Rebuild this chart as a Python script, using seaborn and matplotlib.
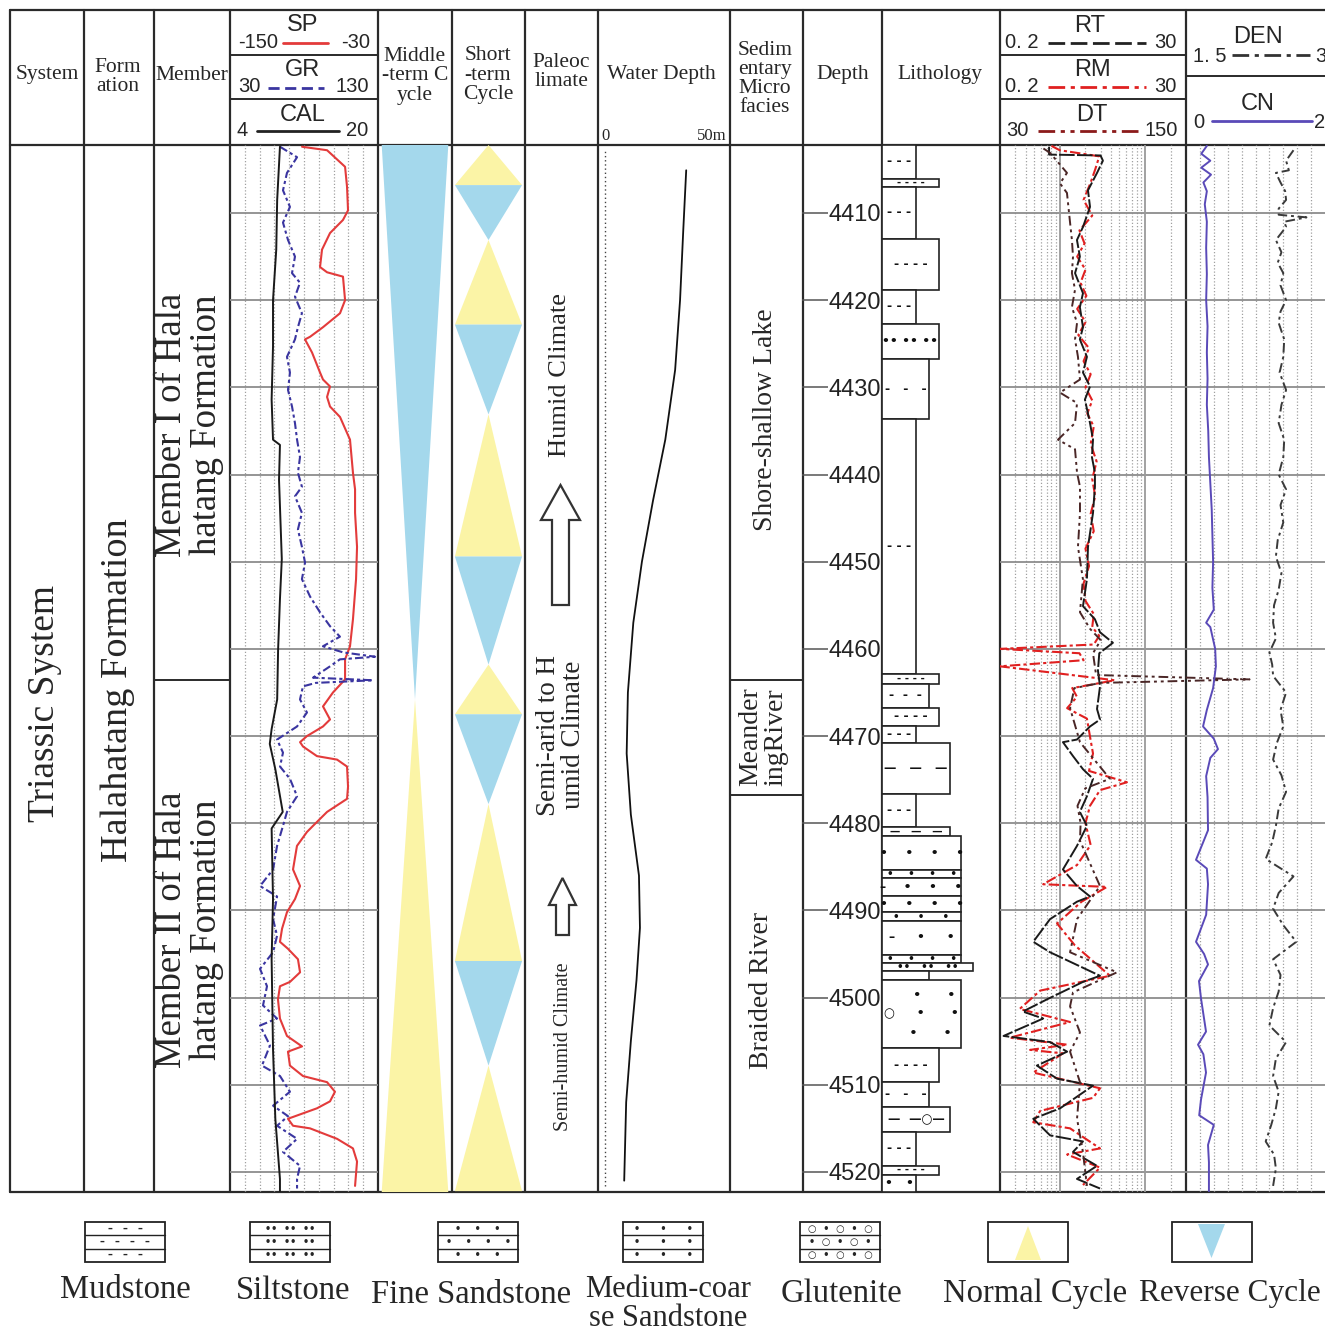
import numpy as np
import matplotlib
matplotlib.use("Agg")
import matplotlib.pyplot as plt
from matplotlib.patches import Polygon, Rectangle
import seaborn as sns

sns.set_style("white")
plt.rcParams['font.family'] = ['Liberation Serif', 'DejaVu Serif']
NARROW = ['Liberation Sans Narrow', 'Liberation Sans', 'DejaVu Sans']

W, H = 1325, 1338
TOP_D, BOT_D = 4402.2, 4522.3

# ---------------- data ----------------
sp_depth = [4402.4, 4402.8, 4404.7, 4407.0, 4409.7, 4410.8, 4412.3, 4414.2, 4416.2, 4416.8,
            4417.3, 4420.0, 4421.5, 4423.1, 4424.2, 4424.5, 4426.0, 4428.3, 4429.1, 4429.9,
            4431.1, 4432.2, 4433.4, 4436.0, 4439.8, 4441.7, 4444.4, 4448.3, 4452.0, 4456.6,
            4459.7, 4461.2, 4463.5, 4465.0, 4466.6, 4468.1, 4468.9, 4470.0, 4470.7, 4471.2,
            4472.3, 4472.7, 4473.5, 4475.8, 4477.2, 4478.7, 4480.3, 4481.0, 4482.6, 4485.3,
            4487.2, 4488.7, 4490.2, 4492.1, 4493.6, 4494.4, 4495.6, 4497.1, 4498.2, 4498.7,
            4500.2, 4502.4, 4504.4, 4505.6, 4506.2, 4507.8, 4509.0, 4509.7, 4510.8, 4511.9,
            4512.7, 4513.9, 4514.7, 4515.0, 4516.2, 4517.3, 4518.8, 4521.6]
sp_val = [-91.6, -71.3, -56.7, -55.1, -54.3, -58.4, -68.9, -75.4, -77.0, -71.3,
          -58.4, -56.7, -60.8, -74.6, -85.1, -89.2, -83.5, -77.0, -74.6, -68.9,
          -71.3, -68.9, -60.8, -52.7, -50.3, -48.6, -48.6, -47.0, -47.8, -50.3,
          -52.7, -56.7, -56.7, -66.5, -74.6, -68.9, -74.6, -87.6, -93.2, -90.8,
          -79.5, -63.2, -55.1, -54.3, -55.1, -71.3, -82.7, -87.6, -95.7, -98.9,
          -93.2, -97.3, -103.8, -107.8, -109.5, -103.0, -94.9, -93.2, -101.4, -109.5,
          -111.1, -109.5, -103.8, -91.6, -103.0, -101.4, -90.8, -71.3, -64.9, -68.9,
          -79.5, -103.0, -98.9, -85.1, -63.2, -50.3, -47.0, -48.6]

gr_depth = [4402.4, 4403.6, 4405.4, 4407.4, 4409.3, 4411.1, 4413.1, 4415.0, 4416.9, 4418.0,
            4419.6, 4421.5, 4423.1, 4424.5, 4426.5, 4428.3, 4430.3, 4432.2, 4434.1, 4436.0,
            4438.0, 4439.8, 4441.4, 4442.5, 4444.4, 4446.3, 4448.3, 4450.1, 4452.0, 4454.0,
            4455.8, 4457.4, 4458.6, 4459.7, 4460.4, 4460.9, 4461.2, 4462.0, 4463.3, 4463.6,
            4463.9, 4464.3, 4465.8, 4467.3, 4468.9, 4470.4, 4471.9, 4473.5, 4474.9, 4476.9,
            4478.7, 4480.3, 4482.6, 4485.3, 4487.2, 4488.4, 4491.0, 4492.9, 4494.8, 4496.7,
            4498.7, 4500.9, 4502.4, 4503.2, 4505.5, 4507.8, 4509.0, 4510.8, 4512.4, 4513.6,
            4514.7, 4516.2, 4517.7, 4519.3, 4520.8, 4521.9]
gr_val = [63.8, 75.3, 68.5, 65.8, 70.5, 65.8, 69.2, 73.9, 71.9, 77.3,
          73.9, 78.6, 75.9, 73.9, 68.5, 70.5, 69.2, 71.9, 73.9, 75.3,
          77.3, 75.9, 78.6, 73.9, 78.6, 75.9, 78.6, 80.7, 78.6, 84.1,
          90.8, 97.6, 104.3, 92.8, 106.4, 128.0, 104.3, 97.6, 86.1, 126.6,
          88.0, 79.3, 77.3, 82.0, 75.3, 61.8, 65.8, 63.8, 70.5, 75.3,
          68.5, 65.8, 61.8, 59.1, 50.3, 61.8, 59.1, 61.8, 59.1, 50.3,
          55.0, 52.3, 61.8, 50.3, 57.0, 51.6, 63.8, 70.5, 59.1, 69.2,
          61.8, 75.3, 65.8, 77.3, 75.3, 75.3]

cal_depth = [4402.4, 4408.5, 4414.2, 4420.0, 4425.3, 4431.4, 4436.0, 4436.6, 4440.6, 4449.7,
             4454.3, 4460.1, 4465.8, 4469.2, 4470.9, 4473.8, 4478.7, 4480.6, 4488.7, 4495.6,
             4505.9, 4513.9, 4520.8, 4522.2]
cal_val = [9.4, 9.1, 9.0, 8.65, 8.65, 8.5, 8.65, 9.4, 9.3, 9.6,
           9.4, 9.2, 9.1, 8.5, 8.3, 8.9, 9.7, 8.5, 8.65, 8.5,
           8.65, 8.9, 9.4, 9.4]

rt_depth = [4402.4, 4403.3, 4403.4, 4404.0, 4405.4, 4407.4, 4409.3, 4411.6, 4413.1, 4415.0,
            4416.9, 4419.2, 4420.8, 4423.1, 4424.5, 4426.5, 4428.3, 4429.9, 4431.4, 4434.1,
            4436.0, 4438.0, 4439.8, 4441.4, 4444.4, 4448.3, 4452.0, 4455.1, 4456.6, 4458.1,
            4459.3, 4460.5, 4462.5, 4464.3, 4466.9, 4468.1, 4468.9, 4470.4, 4470.7, 4472.3,
            4473.8, 4474.9, 4476.9, 4478.7, 4480.3, 4482.6, 4485.3, 4487.2, 4488.4, 4489.0,
            4491.0, 4493.6, 4494.8, 4497.5, 4498.2, 4500.2, 4501.6, 4502.4, 4504.4, 4505.1,
            4506.2, 4507.8, 4509.3, 4510.1, 4512.7, 4513.9, 4515.8, 4516.5, 4517.7, 4519.3,
            4520.8, 4521.9]
rt_val = [0.75, 0.75, 3.0, 3.2, 2.73, 2.14, 2.26, 1.87, 1.59, 1.72,
          1.51, 1.87, 1.72, 1.87, 1.72, 2.08, 1.87, 2.26, 1.97, 2.26,
          2.45, 2.38, 2.58, 2.58, 2.45, 2.14, 2.08, 1.87, 2.58, 2.96,
          4.19, 2.9, 2.8, 2.96, 2.73, 2.96, 2.26, 1.59, 1.09, 1.43,
          1.87, 2.45, 2.08, 1.72, 2.08, 1.59, 1.09, 1.59, 2.26, 1.59,
          0.77, 0.49, 0.77, 2.96, 1.87, 0.71, 0.37, 0.64, 0.22, 0.77,
          1.22, 0.54, 0.93, 2.45, 1.01, 0.49, 0.77, 1.87, 1.43, 2.73,
          1.59, 2.96]

rm_depth = [4402.3, 4402.8, 4403.5, 4405.0, 4406.5, 4408.5, 4410.3, 4412.0, 4413.5, 4415.0,
            4416.5, 4418.0, 4419.5, 4421.0, 4422.5, 4424.0, 4425.5, 4427.0, 4428.5, 4430.0,
            4431.5, 4433.0, 4434.5, 4436.5, 4438.5, 4440.5, 4442.5, 4444.5, 4446.5, 4448.5,
            4450.5, 4452.5, 4454.5, 4456.0, 4457.5, 4458.5, 4459.5, 4460.0, 4460.5, 4461.3,
            4462.0, 4463.6, 4464.5, 4465.5, 4466.8, 4468.0, 4470.5, 4472.0, 4474.0, 4475.3,
            4476.2, 4478.0, 4480.0, 4482.5, 4484.8, 4487.0, 4487.3, 4489.0, 4491.5, 4494.0,
            4497.5, 4499.2, 4501.3, 4502.8, 4504.6, 4505.4, 4506.0, 4506.4, 4508.6, 4510.4,
            4511.5, 4513.0, 4514.3, 4515.0, 4517.3, 4518.0, 4519.5, 4521.5]
rm_val = [0.8, 1.0, 2.9, 2.6, 2.3, 1.9, 2.4, 1.7, 1.95, 1.6,
          2.0, 1.75, 2.05, 1.6, 2.0, 1.65, 2.2, 1.9, 2.3, 2.0,
          2.4, 2.1, 2.5, 2.3, 2.7, 2.4, 2.6, 2.3, 2.5, 2.0,
          2.2, 1.9, 2.0, 2.5, 2.4, 2.9, 2.5, 0.2, 1.7, 1.9,
          0.2, 4.4, 1.4, 1.59, 1.22, 2.08, 2.3, 2.45, 2.2, 6.11,
          2.96, 2.26, 2.0, 2.3, 1.59, 0.64, 3.57, 1.8, 0.93, 1.5,
          3.87, 0.59, 0.34, 1.32, 0.26, 1.22, 0.45, 1.09, 0.49, 2.96,
          2.45, 0.59, 0.49, 1.32, 2.96, 1.22, 2.96, 1.87]

dt_depth = [4402.6, 4403.1, 4405.4, 4406.6, 4407.7, 4411.1, 4413.1, 4415.0, 4416.9, 4418.8,
            4420.8, 4422.6, 4424.5, 4426.5, 4429.1, 4430.6, 4431.8, 4434.1, 4436.0, 4437.1,
            4439.8, 4441.4, 4444.4, 4448.3, 4452.0, 4455.8, 4457.7, 4459.0, 4460.5, 4463.0,
            4463.5, 4463.9, 4464.5, 4466.8, 4470.7, 4474.9, 4476.0, 4478.0, 4480.0, 4482.0,
            4487.2, 4491.0, 4494.8, 4497.1, 4499.4, 4501.0, 4504.0, 4506.2, 4509.7, 4513.9,
            4517.7, 4521.6]
dt_val = [58, 62.3, 73.2, 68.7, 73.2, 75.2, 76.4, 77.1, 76.4, 78.4,
          76.4, 79.7, 78.4, 80.3, 81.6, 68.7, 79.7, 78.4, 67.4, 78.4,
          79.7, 81.6, 81.6, 80.3, 83.5, 81.6, 88.1, 95, 90, 92,
          191, 95, 78, 75.2, 81.6, 100.9, 85, 80, 82, 81.6,
          94.5, 79.7, 75.2, 105.5, 77.1, 75.2, 81.6, 75.2, 81.6, 79.7,
          83.5, 86.1]

den_depth = [4402.8, 4404.0, 4405.1, 4405.4, 4406.5, 4407.5, 4408.5, 4409.5, 4410.2, 4410.5,
             4411.0, 4411.6, 4413.1, 4414.5, 4415.7, 4416.9, 4418.3, 4420.0, 4421.3, 4422.6,
             4424.5, 4426.5, 4428.3, 4430.3, 4432.0, 4434.1, 4436.0, 4438.0, 4440.0, 4441.7,
             4443.5, 4445.5, 4447.5, 4449.4, 4451.3, 4453.2, 4455.0, 4457.0, 4458.8, 4460.4,
             4461.8, 4463.1, 4465.0, 4467.0, 4468.9, 4470.8, 4472.7, 4474.5, 4476.4, 4478.3,
             4480.3, 4482.2, 4484.1, 4486.1, 4488.0, 4489.8, 4491.7, 4493.6, 4495.6, 4497.4,
             4499.3, 4501.2, 4503.2, 4505.1, 4507.0, 4509.0, 4510.8, 4512.7, 4514.6, 4516.5,
             4518.0, 4519.6, 4521.6]
den_val = [2.66, 2.58, 2.61, 2.47, 2.52, 2.57, 2.58, 2.50, 2.50, 2.80,
           2.56, 2.58, 2.47, 2.53, 2.49, 2.55, 2.52, 2.58, 2.52, 2.50,
           2.56, 2.55, 2.51, 2.58, 2.53, 2.50, 2.56, 2.55, 2.50, 2.58,
           2.52, 2.55, 2.49, 2.47, 2.53, 2.50, 2.45, 2.44, 2.47, 2.40,
           2.43, 2.44, 2.58, 2.52, 2.55, 2.48, 2.44, 2.53, 2.58, 2.50,
           2.47, 2.43, 2.36, 2.66, 2.50, 2.44, 2.55, 2.69, 2.44, 2.52,
           2.50, 2.44, 2.40, 2.58, 2.47, 2.44, 2.50, 2.47, 2.42, 2.36,
           2.45, 2.47, 2.44]

cn_depth = [4402.3, 4403.2, 4404.0, 4404.8, 4405.6, 4406.5, 4407.5, 4409.0, 4411.0, 4414.0,
            4417.0, 4420.0, 4423.0, 4426.0, 4429.0, 4432.0, 4435.0, 4438.0, 4441.0, 4444.0,
            4447.0, 4450.0, 4453.0, 4455.5, 4457.0, 4457.5, 4460.0, 4462.0, 4464.5, 4467.0,
            4468.9, 4470.3, 4471.5, 4472.5, 4474.6, 4477.0, 4480.8, 4484.2, 4485.2, 4487.0,
            4490.5, 4493.6, 4495.0, 4496.2, 4498.1, 4500.1, 4503.9, 4505.4, 4506.5, 4508.6,
            4511.7, 4513.5, 4514.6, 4516.9, 4518.9, 4522.2]
cn_val = [0.30, 0.22, 0.35, 0.22, 0.36, 0.25, 0.30, 0.27, 0.30, 0.29,
          0.30, 0.29, 0.31, 0.30, 0.31, 0.30, 0.32, 0.33, 0.35, 0.37,
          0.38, 0.39, 0.38, 0.40, 0.29, 0.35, 0.42, 0.43, 0.39, 0.30,
          0.245, 0.40, 0.46, 0.35, 0.29, 0.31, 0.317, 0.144, 0.30, 0.317,
          0.29, 0.144, 0.26, 0.317, 0.187, 0.216, 0.288, 0.173, 0.25, 0.288,
          0.216, 0.19, 0.40, 0.317, 0.33, 0.33]

wd_depth = [4405.1, 4412, 4420, 4428, 4436, 4443, 4450, 4457, 4465, 4472, 4479, 4486,
            4492, 4498, 4505, 4512, 4521]
wd_val = [33, 31.8, 30.5, 28.5, 24.5, 19.5, 15, 11.5, 9.3, 8.8, 10.5, 13.8,
          14.2, 12.8, 10.5, 8.6, 7.8]

lith_top = [4402.2, 4406.1, 4407.0, 4413.0, 4418.8, 4422.7, 4426.8, 4433.6, 4462.9, 4464.0,
            4466.8, 4468.8, 4470.8, 4476.6, 4480.4, 4481.5, 4485.4, 4486.3, 4488.4, 4490.2,
            4491.2, 4495.1, 4496.0, 4496.9, 4498.0, 4505.8, 4509.7, 4512.5, 4515.4, 4519.3,
            4520.3]
lith_grain = [2.0, 3.35, 2.0, 3.35, 2.0, 3.35, 2.75, 2.0, 3.35, 2.75,
              3.35, 2.0, 4.0, 2.0, 4.0, 4.65, 4.65, 4.65, 4.65, 4.65,
              4.65, 4.65, 5.35, 2.75, 4.65, 3.35, 2.75, 4.0, 2.0, 3.35,
              2.0]
lith_symbol = ["- - -", "- - - -", "- - -", "- - - -", "- - -", "•• •• ••", "-   -   -", "- - -",
               "- - - -", "-  -  -", "- - - -", "- - -", "—   —   —", "- - -", "—   —   —",
               "•    •    •    •", "•    •    •    •", "–    •    •    •", "•    •    •    •",
               "•     •     •", "–     •     •", "•    •    •    •", "••   ••   ••", "",
               "      •      •\n○     •      •\n    •      •", "- - - -", "-   -   -", "—  —○—",
               "- - -", "- - - -", "•   •"]
lith_bot = lith_top[1:] + [BOT_D]

mid_bounds = [4402.2, 4465.8, 4522.3]
mid_types = ["reverse", "normal"]
short_bounds = [4402.2, 4406.8, 4413.1, 4422.8, 4433.1, 4449.4, 4461.8, 4467.5, 4477.8,
                4495.8, 4507.8, 4522.2]
short_types = ["normal", "reverse", "normal", "reverse", "normal", "reverse", "normal",
               "reverse", "normal", "reverse", "normal"]

depth_ticks = list(range(4410, 4521, 10))

YELLOW = '#fbf4a6'
BLUE = '#a4d8ec'
LINE = '#2a2a2a'

# ---------------- figure ----------------
fig = plt.figure(figsize=(W / 100, H / 100), dpi=100)
frame = fig.add_axes([0, 0, 1, 1])
frame.set_xlim(0, W)
frame.set_ylim(H, 0)
frame.axis('off')


def track(x0, x1, y0=145, y1=1192, sharey=None):
    ax = fig.add_axes([x0 / W, 1 - y1 / H, (x1 - x0) / W, (y1 - y0) / H], sharey=sharey)
    ax.set_ylim(BOT_D, TOP_D)
    ax.set_facecolor('none')
    for s in ax.spines.values():
        s.set_visible(False)
    ax.tick_params(length=0, labelleft=False, labelbottom=False, left=False, bottom=False)
    return ax


def T(x, y, s, size, rot=0, **kw):
    kw.setdefault('ha', 'center')
    kw.setdefault('va', 'center')
    frame.text(x, y, s, fontsize=size, rotation=rot, multialignment='center', **kw)


# table lines
for y in [10, 145, 1192]:
    frame.plot([10, W], [y, y], color=LINE, lw=1.6)
for x in [10, 84, 154, 230, 378, 452, 525, 598, 730, 803, 882, 1000, 1186]:
    frame.plot([x, x], [10, 1192], color=LINE, lw=1.6)
frame.plot([154, 230], [680, 680], color=LINE, lw=1.4)
frame.plot([730, 803], [680, 680], color=LINE, lw=1.4)
frame.plot([730, 803], [795, 795], color=LINE, lw=1.4)
for y in [55, 99]:
    frame.plot([230, 378], [y, y], color=LINE, lw=1.4)
    frame.plot([1000, 1186], [y, y], color=LINE, lw=1.4)
frame.plot([1186, W], [76, 76], color=LINE, lw=1.4)

# header texts
HS = 15.5
T(47, 75, "System", HS)
T(118, 77, "Form\nation", HS, linespacing=1.05)
T(192, 76, "Member", HS)
T(415, 76, "Middle\n-term C\nycle", HS, linespacing=1.05)
T(488, 75, "Short\n-term\nCycle", HS, linespacing=1.05)
T(561, 72, "Paleoc\nlimate", HS, linespacing=1.05)
T(661, 74, "Water Depth", HS)
T(765, 79, "Sedim\nentary\nMicro\nfacies", HS, linespacing=1.0)
T(843, 75, "Depth", HS)
T(940, 74, "Lithology", HS)

# curve headers
NS = 14.5
T(303, 25, "SP", 17, family=NARROW)
T(258, 43, "-150", NS, family=NARROW)
frame.plot([283, 328], [43, 43], color='#e33b3b', lw=2)
T(356, 43, "-30", NS, family=NARROW)
T(303, 70, "GR", 17, family=NARROW)
T(249, 87, "30", NS, family=NARROW)
frame.plot([268, 324], [88, 88], color='#3a35a0', lw=2, ls=(0, (4, 2)))
T(352, 87, "130", NS, family=NARROW)
T(303, 115, "CAL", 17, family=NARROW)
T(242, 131, "4", NS, family=NARROW)
frame.plot([257, 339], [131, 131], color='#222', lw=2)
T(357, 131, "20", NS, family=NARROW)

T(1090, 26, "RT", 17, family=NARROW)
T(1022, 43, "0. 2", NS, family=NARROW)
frame.plot([1048, 1146], [43, 43], color='#222', lw=2, ls=(0, (6, 2)))
T(1165, 43, "30", NS, family=NARROW)
T(1092, 70, "RM", 17, family=NARROW)
T(1022, 87, "0. 2", NS, family=NARROW)
frame.plot([1048, 1146], [87, 87], color='#e02020', lw=2, ls=(0, (6, 2, 1.5, 2)))
T(1165, 87, "30", NS, family=NARROW)
T(1092, 115, "DT", 17, family=NARROW)
T(1017, 131, "30", NS, family=NARROW)
frame.plot([1038, 1140], [131, 131], color='#8b1a1a', lw=2, ls=(0, (6, 2, 1.5, 2, 1.5, 2)))
T(1161, 131, "150", NS, family=NARROW)

T(1258, 37, "DEN", 17, family=NARROW)
T(1210, 56, "1. 5", NS, family=NARROW)
frame.plot([1232, 1310], [55, 55], color='#333', lw=2, ls=(0, (6, 2, 1.5, 2)))
T(1321, 56, "3", NS, family=NARROW)
T(1258, 104, "CN", 17, family=NARROW)
T(1199, 122, "0", NS, family=NARROW)
frame.plot([1212, 1312], [121, 121], color='#5a4ab8', lw=2)
T(1320, 122, "2", NS, family=NARROW)

T(606, 136, "0", 12)
T(712, 136, "50m", 12)

# body texts
T(45, 703, "Triassic System", 27, rot=90)
T(118, 690, "Halahatang Formation", 27.5, rot=90)
T(189, 425, "Member I of Hala\nhatang Formation", 26.5, rot=90, linespacing=1.0)
T(189, 930, "Member II of Hala\nhatang Formation", 26.5, rot=90, linespacing=1.0)
T(560, 375, "Humid Climate", 19, rot=90)
T(561, 735, "Semi-arid to H\numid Climate", 19.5, rot=90, linespacing=1.05)
T(563, 1047, "Semi-humid Climate", 14.5, rot=90)
T(765, 420, "Shore-shallow Lake", 20, rot=90)
T(763, 737, "Meander\ningRiver", 20, rot=90, linespacing=1.0)
T(762, 990, "Braided River", 20, rot=90)

# paleoclimate arrows
frame.add_patch(Polygon([(552, 605), (552, 520), (541, 520), (560.5, 485), (580, 520),
                         (569, 520), (569, 605)], closed=True, fc='white', ec='#333', lw=1.6))
frame.add_patch(Polygon([(556, 935), (556, 905), (549, 905), (562.5, 878), (576, 905),
                         (569, 905), (569, 935)], closed=True, fc='white', ec='#333', lw=1.6))

# ---------------- SP / GR / CAL track ----------------
ax_sp = track(230, 378)
ax_sp.set_xlim(-150, -30)
ax_sp.set_xticks(np.linspace(-150, -30, 11)[1:-1])
ax_sp.set_yticks(depth_ticks)
ax_sp.grid(True, axis='x', color='#a0a0a0', ls=(0, (1, 1.6)), lw=0.9)
ax_sp.grid(True, axis='y', color='#8c8c8c', ls='-', lw=1.3)
sns.lineplot(x=sp_val, y=sp_depth, sort=False, estimator=None, ax=ax_sp,
             color='#e33b3b', lw=1.5)
ax_gr = track(230, 378, sharey=ax_sp)
ax_gr.set_xlim(30, 130)
sns.lineplot(x=gr_val, y=gr_depth, sort=False, estimator=None, ax=ax_gr,
             color='#3a35a0', lw=1.5, linestyle=(0, (4, 1.5, 1.5, 1.5)))
ax_cal = track(230, 378, sharey=ax_sp)
ax_cal.set_xlim(4, 20)
sns.lineplot(x=cal_val, y=cal_depth, sort=False, estimator=None, ax=ax_cal,
             color='#1a1a1a', lw=1.4)
for a in (ax_sp, ax_gr, ax_cal):
    a.set_xlabel('')
    a.set_ylabel('')
    a.set_ylim(BOT_D, TOP_D)

# ---------------- cycles ----------------
def draw_cycles(ax, bounds, types, hw):
    ax.set_xlim(-1, 1)
    for top, bot, kind in zip(bounds[:-1], bounds[1:], types):
        if kind == 'normal':
            ax.fill([0, -hw, hw], [top, bot, bot], color=YELLOW, lw=0)
        else:
            ax.fill([-hw, hw, 0], [top, top, bot], color=BLUE, lw=0)

ax_mid = track(378, 452)
draw_cycles(ax_mid, mid_bounds, mid_types, 0.9)
ax_short = track(452, 525)
draw_cycles(ax_short, short_bounds, short_types, 0.92)

# ---------------- water depth ----------------
ax_wd = track(598, 730)
ax_wd.set_xlim(-2.85, 50.8)
ax_wd.axvline(0, ymin=0.006, ymax=0.995, color='#444', ls=(0, (1, 2)), lw=1)
sns.lineplot(x=wd_val, y=wd_depth, sort=False, estimator=None, ax=ax_wd, color='#111', lw=1.3)
ax_wd.set_xlabel('')
ax_wd.set_ylabel('')
ax_wd.set_ylim(BOT_D, TOP_D)

# ---------------- depth ticks ----------------
ax_d = track(803, 828)
ax_d.set_xlim(0, 1)
ax_d.yaxis.tick_right()
ax_d.set_yticks(depth_ticks)
ax_d.set_yticklabels([str(d) for d in depth_ticks])
ax_d.tick_params(axis='y', right=True, left=False, direction='in', length=18.5, width=1.1,
                 color='#555', labelright=True, labelleft=False, labelsize=17, pad=0.5)
for lab in ax_d.get_yticklabels():
    lab.set_family(NARROW)
    lab.set_color('#222')

# ---------------- lithology ----------------
ax_l = track(882, 1000)
ax_l.set_xlim(0, 6.94)
centers = [(t + b) / 2 for t, b in zip(lith_top, lith_bot)]
thick = [b - t for t, b in zip(lith_top, lith_bot)]
ax_l.barh(centers, lith_grain, height=thick, left=0, color='white', edgecolor='#222', lw=1.2)
for c, g, s, th in zip(centers, lith_grain, lith_symbol, thick):
    if s:
        ax_l.text(g / 2, c, s, ha='center', va='center', fontsize=9 if th > 1.5 else 7.5,
                  family='DejaVu Sans', fontweight='bold', color='#111', linespacing=1.6)

# ---------------- RT / RM / DT ----------------
ax_r = track(1000, 1186)
ax_r.set_xscale('log')
ax_r.set_xlim(0.2, 30)
minor = [0.3, 0.4, 0.5, 0.6, 0.7, 0.8, 0.9, 2, 3, 4, 5, 6, 7, 8, 9, 20]
ax_r.set_xticks(minor)
ax_r.set_xticks([], minor=True)
ax_r.set_yticks(depth_ticks)
ax_r.grid(True, axis='x', color='#a0a0a0', ls=(0, (1, 1.6)), lw=0.9)
ax_r.grid(True, axis='y', color='#8c8c8c', ls='-', lw=1.3)
ax_r.axvline(1, color='#9a9a9a', lw=1.3)
ax_r.axvline(10, color='#9a9a9a', lw=1.3)
ax_r.tick_params(length=0, labelleft=False, labelbottom=False, which='both')
sns.lineplot(x=rm_val, y=rm_depth, sort=False, estimator=None, ax=ax_r,
             color='#e02020', lw=1.5, linestyle=(0, (5, 1.5, 1.5, 1.5)))
sns.lineplot(x=rt_val, y=rt_depth, sort=False, estimator=None, ax=ax_r,
             color='#1a1a1a', lw=1.4, linestyle=(0, (8, 1.2)))
ax_dt = track(1000, 1186, sharey=ax_r)
ax_dt.set_xlim(30, 150)
sns.lineplot(x=dt_val, y=dt_depth, sort=False, estimator=None, ax=ax_dt,
             color='#4a2626', lw=1.4, linestyle=(0, (5, 2, 1.5, 2, 1.5, 2)))
ax_dt.lines[-1].set_clip_on(False)
for a in (ax_r, ax_dt):
    a.set_xlabel('')
    a.set_ylabel('')
    a.set_ylim(BOT_D, TOP_D)

# ---------------- DEN / CN ----------------
ax_den = track(1186, 1325)
ax_den.set_xlim(1.5, 3.0)
ax_den.set_xticks(np.linspace(1.5, 3.0, 11)[1:-1])
ax_den.set_yticks(depth_ticks)
ax_den.grid(True, axis='x', color='#a0a0a0', ls=(0, (1, 1.6)), lw=0.9)
ax_den.grid(True, axis='y', color='#8c8c8c', ls='-', lw=1.3)
sns.lineplot(x=den_val, y=den_depth, sort=False, estimator=None, ax=ax_den,
             color='#3a3a3a', lw=1.4, linestyle=(0, (5, 2, 1.5, 2)))
ax_cn = track(1186, 1325, sharey=ax_den)
ax_cn.set_xlim(0, 2)
sns.lineplot(x=cn_val, y=cn_depth, sort=False, estimator=None, ax=ax_cn,
             color='#5a4ab8', lw=1.4)
for a in (ax_den, ax_cn):
    a.set_xlabel('')
    a.set_ylabel('')
    a.set_ylim(BOT_D, TOP_D)

# ---------------- legend ----------------
LS = 23.5
def legbox(x, rows):
    frame.add_patch(Rectangle((x, 1222), 80, 40, fc='white', ec='#222', lw=1.3))
    n = len(rows)
    h = 40 / n
    for i, r in enumerate(rows):
        if i > 0:
            frame.plot([x, x + 80], [1222 + i * h, 1222 + i * h], color='#222', lw=1.0)
        frame.text(x + 40, 1222 + (i + 0.5) * h, r, ha='center', va='center', fontsize=7,
                   family='DejaVu Sans', fontweight='bold')

legbox(85, ["–   –   –", "–   –   –   –", "–   –   –"])
legbox(250, ["••  ••  ••", "••  ••  ••", "••  ••  ••"])
legbox(438, ["•    •    •", "•    •    •    •", "•    •    •"])
legbox(623, ["•      •      •", "•      •      •", "•      •      •"])
legbox(800, ["○  •  ○  •  ○", "•  ○  •  ○  •", "○  •  ○  •  ○"])
frame.add_patch(Rectangle((988, 1222), 80, 40, fc='white', ec='#222', lw=1.3))
frame.add_patch(Polygon([(1028, 1226), (1015, 1260), (1041, 1260)], closed=True, fc=YELLOW, lw=0))
frame.add_patch(Rectangle((1172, 1222), 80, 40, fc='white', ec='#222', lw=1.3))
frame.add_patch(Polygon([(1198, 1224), (1225, 1224), (1211.5, 1258)], closed=True, fc=BLUE, lw=0))

T(125, 1290, "Mudstone", LS)
T(293, 1291, "Siltstone", LS)
T(471, 1295, "Fine Sandstone", LS)
T(668, 1304, "Medium-coar\nse Sandstone", 22, linespacing=1.0)
T(841, 1294, "Glutenite", LS)
T(1035, 1294, "Normal Cycle", LS)
T(1230, 1294, "Reverse Cycle", 22.5)

fig.savefig("out.png", dpi=100)
